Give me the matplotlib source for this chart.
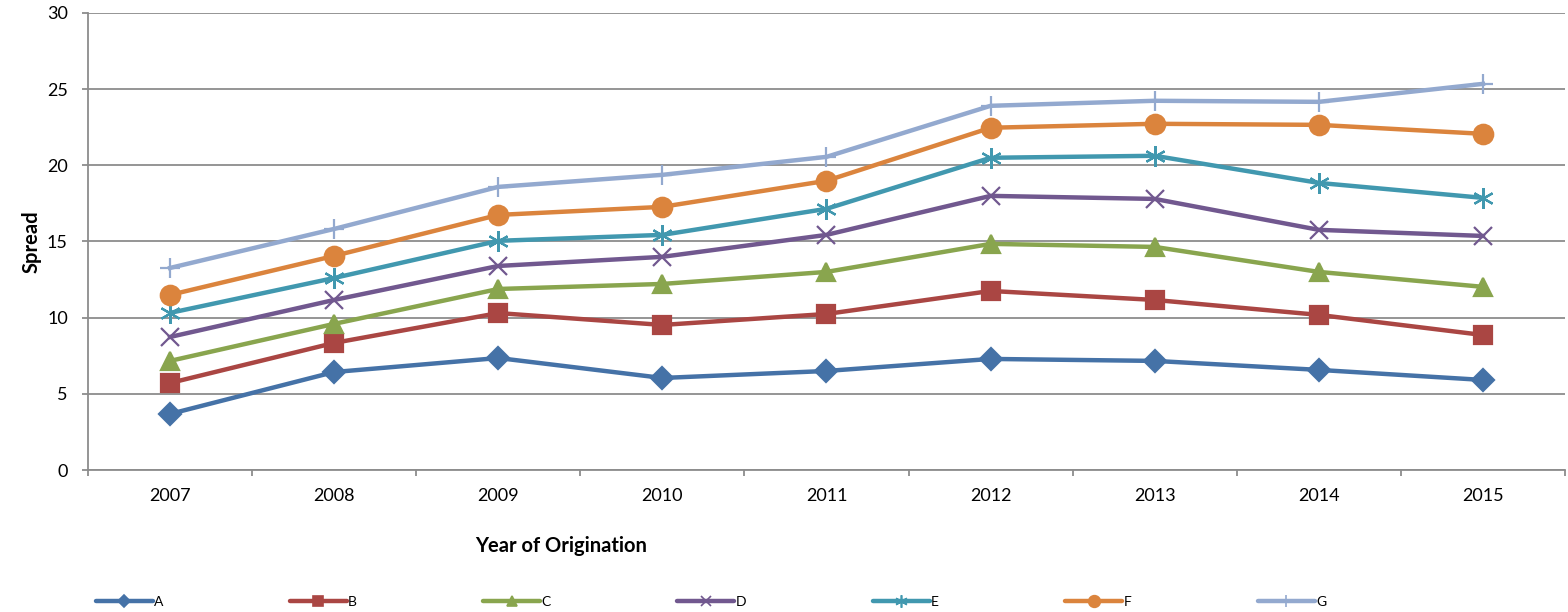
"""Spread by year of origination for grades A-G."""

import numpy as np
from matplotlib import pyplot
from matplotlib.lines import Line2D

years = ['2007', '2008', '2009', '2010', '2011', '2012', '2013', '2014', '2015']
grades = ['A', 'B', 'C', 'D', 'E', 'F', 'G']

spread_a = [3.68, 6.43, 7.35, 6.04, 6.50, 7.29, 7.16, 6.57, 5.91]
spread_b = [5.71, 8.34, 10.30, 9.52, 10.24, 11.75, 11.16, 10.18, 8.86]
spread_c = [7.16, 9.59, 11.88, 12.21, 13.00, 14.84, 14.64, 13.00, 12.02]
spread_d = [8.73, 11.16, 13.39, 13.99, 15.43, 17.99, 17.79, 15.76, 15.36]
spread_e = [10.31, 12.60, 15.04, 15.43, 17.14, 20.49, 20.62, 18.84, 17.86]
spread_f = [11.49, 14.05, 16.74, 17.27, 18.98, 22.46, 22.72, 22.65, 22.06]
spread_g = [13.26, 15.82, 18.58, 19.37, 20.55, 23.90, 24.23, 24.16, 25.34]

series = [spread_a, spread_b, spread_c, spread_d, spread_e, spread_f, spread_g]
colors = ['#4572A7', '#AA4643', '#89A54E', '#71588F', '#4198AF', '#DB843D', '#93A9CF']
markers = ['D', 's', '^', 'x', (6, 2, 0), 'o', '+']
msizes = [11, 13, 13, 13, 15, 14, 15]

pyplot.rc('font', family='Lato', size=13)
fig = pyplot.figure(figsize=(15.68, 6.12), dpi=100)
ax = fig.add_axes([0.0561, 0.232, 0.942, 0.747])

x = np.arange(len(years))
handles = []
for name, vals, c, m, ms in zip(grades, series, colors, markers, msizes):
    ax.plot(x, vals, color=c, lw=3.2, marker=m, markersize=ms,
            markeredgewidth=1.6, markeredgecolor=c, label=name,
            solid_joinstyle='round', zorder=3)
    handles.append(Line2D([], [], color=c, lw=3.2, marker=m, markersize=ms * 0.6,
                          markeredgewidth=1.2, markeredgecolor=c,
                          solid_capstyle='round'))

ax.set_xlim(-0.5, len(years) - 0.5)
ax.set_ylim(0, 30)
ax.set_yticks(range(0, 31, 5))
ax.yaxis.grid(True, color='#8c8c8c', lw=1.3)
ax.set_axisbelow(True)

# category labels at centres, tick marks at category boundaries
ax.set_xticks(x)
ax.set_xticklabels(years)
ax.tick_params(axis='x', length=0, pad=13)
ax.set_xticks(np.arange(-0.5, len(years)), minor=True)
ax.tick_params(axis='x', which='minor', length=4.5, color='#8c8c8c', width=1.3)
ax.tick_params(axis='y', length=4.5, color='#8c8c8c', width=1.3, pad=10)

for side in ['top', 'right']:
    ax.spines[side].set_visible(False)
for side in ['left', 'bottom']:
    ax.spines[side].set_color('#8c8c8c')
    ax.spines[side].set_linewidth(1.3)

ax.set_ylabel('Spread', fontsize=14.5, fontweight='bold', labelpad=4)
ax.set_xlabel('Year of Origination', fontsize=14.5, fontweight='bold')
ax.xaxis.set_label_coords(0.32, -0.145)

fig.legend(handles, grades, loc='lower left', bbox_to_anchor=(0.053, -0.014),
           ncol=7, frameon=False, fontsize=10, handlelength=4.1,
           handletextpad=0.1, columnspacing=9.1)

fig.savefig('out.png', dpi=100)
